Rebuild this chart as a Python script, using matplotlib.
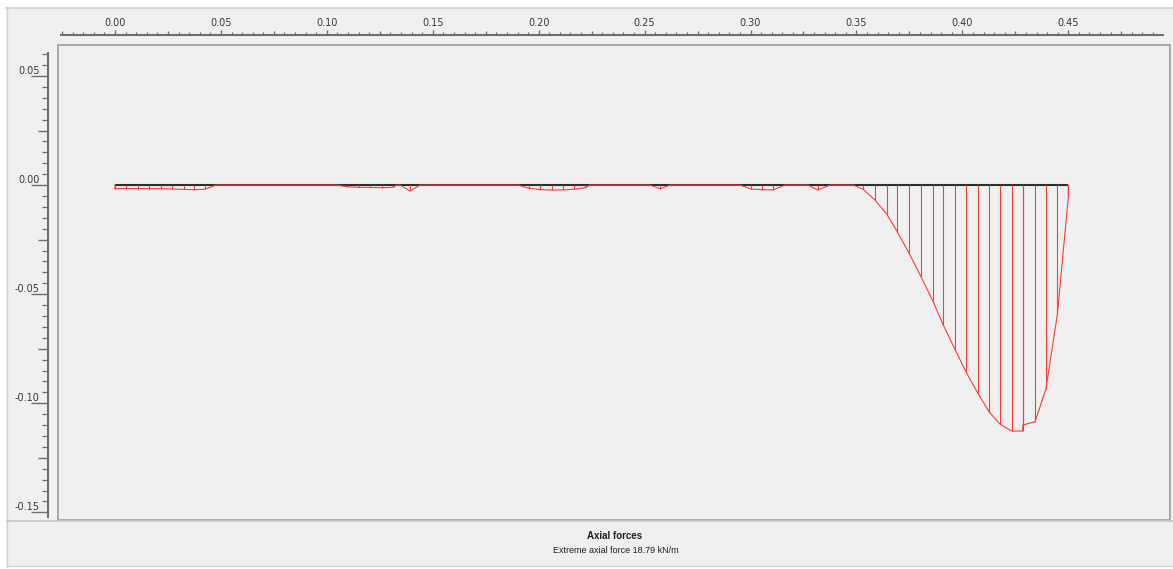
import matplotlib
matplotlib.use("Agg")
import matplotlib.pyplot as plt
import numpy as np
from matplotlib.lines import Line2D
from matplotlib.patches import Rectangle
from matplotlib.ticker import FixedLocator, FuncFormatter

W, H = 1173, 569
PT = 72 / 100  # points per pixel at dpi 100

# plate geometry (m)
plate_x = [0.0, 0.45]
plate_y = [0.0, 0.0]

# nodes along the plate (m) and axial force at each node (kN/m)
node_x = [0.0000, 0.0052, 0.0107, 0.0160, 0.0217, 0.0269, 0.0326, 0.0373, 0.0425, 0.0477,
          0.1043, 0.1097, 0.1151, 0.1205, 0.1259, 0.1313, 0.1330, 0.1345, 0.1393, 0.1440,
          0.1902, 0.1955, 0.2008, 0.2061, 0.2114, 0.2167, 0.2220, 0.2242,
          0.2525, 0.2573, 0.2620,
          0.2950, 0.3002, 0.3054, 0.3106, 0.3163,
          0.3270, 0.3318, 0.3375,
          0.3485, 0.3532, 0.3588, 0.3643, 0.3693, 0.3749, 0.3803, 0.3860, 0.3910, 0.3965,
          0.4017, 0.4072, 0.4126, 0.4177, 0.4233, 0.4285, 0.4285, 0.4343, 0.4394, 0.4448, 0.4500]
axial = [-0.27, -0.27, -0.27, -0.27, -0.28, -0.30, -0.33, -0.35, -0.32, 0.0,
         0.0, -0.13, -0.17, -0.18, -0.20, -0.17, 0.0, 0.0, -0.45, 0.0,
         0.0, -0.25, -0.35, -0.38, -0.37, -0.32, -0.20, 0.0,
         0.0, -0.28, 0.0,
         0.0, -0.30, -0.35, -0.37, 0.0,
         0.0, -0.37, 0.0,
         0.0, -0.33, -1.15, -2.22, -3.57, -5.22, -6.95, -8.83, -10.70, -12.55,
         -14.27, -15.87, -17.32, -18.25, -18.79, -18.79, -18.33, -18.08, -15.60, -9.93, -0.90]

# drawing scale of the force diagram (m per kN/m)
diagram_scale = 0.006

BG = "#f0f0f0"
RULER = "#6e6e6e"
TEXT = "#3a3a3a"
RED = "#ff3a3a"


def ruler_label(v, pos):
    if abs(v / 0.05 - round(v / 0.05)) > 1e-6:
        return ""
    if abs(v) < 1e-9:
        v = 0.0
    return f"{v:.2f}"


def lengthen_labelled(ticks, locs, size, top):
    for tick, loc in zip(ticks, locs):
        if ruler_label(loc, None):
            line = tick.tick2line if top else tick.tick1line
            line.set_markersize(size)


fig = plt.figure(figsize=(W / 100, H / 100), dpi=100, facecolor=BG)

# window edges and separator
fig.add_artist(Rectangle((0, 1 - 7 / H), 1, 7 / H, transform=fig.transFigure, color="white", lw=0))
fig.add_artist(Rectangle((0, 0), 6 / W, 1, transform=fig.transFigure, color="white", lw=0))
fig.add_artist(Rectangle((0, 0), 1, 2.5 / H, transform=fig.transFigure, color="white", lw=0))
fig.add_artist(Line2D([6 / W, 1], [1 - 7.5 / H] * 2, transform=fig.transFigure, color="#d2d2d2", lw=1.2))
fig.add_artist(Line2D([6.5 / W] * 2, [2.5 / H, 1 - 7.5 / H], transform=fig.transFigure, color="#d2d2d2", lw=1.0))
fig.add_artist(Line2D([6.5 / W, 1], [1 - 521 / H] * 2, transform=fig.transFigure, color="#c8c8c8", lw=1.2))
fig.add_artist(Line2D([6.5 / W, 1], [2.8 / H] * 2, transform=fig.transFigure, color="#d2d2d2", lw=1.0))

ax = fig.add_axes([58 / W, 1 - 520 / H, (1170 - 58) / W, (520 - 45) / H])
ax.set_facecolor(BG)
ax.set_xlim(-0.0269, 0.4980)
ax.set_ylim(-0.1535, 0.0642)

# plot frame
ax.add_patch(Rectangle((0, 0), 1, 1, transform=ax.transAxes, fill=False,
                       edgecolor="#a9a9a9", lw=1.4, clip_on=False, zorder=5))

# rulers: top (x) and left (y), offset from the frame
for side in ("right", "bottom"):
    ax.spines[side].set_visible(False)
ax.spines["top"].set_position(("outward", 10 * PT))
ax.spines["left"].set_position(("outward", 10 * PT))
ax.spines["top"].set_bounds(-0.0255, 0.4947)
ax.spines["left"].set_bounds(-0.1522, 0.0605)
for side in ("top", "left"):
    ax.spines[side].set_color(RULER)
    ax.spines[side].set_linewidth(1.5)

ax.xaxis.tick_top()
ax.xaxis.set_major_locator(FixedLocator(np.round(np.arange(-1, 20) * 0.025, 3)))
ax.xaxis.set_minor_locator(FixedLocator(np.round(np.arange(-5, 99) * 0.005, 3)))
ax.yaxis.set_major_locator(FixedLocator(np.round(np.arange(-6, 3) * 0.025, 3)))
ax.yaxis.set_minor_locator(FixedLocator(np.round(np.arange(-30, 13) * 0.005, 3)))
ax.xaxis.set_major_formatter(FuncFormatter(ruler_label))
ax.yaxis.set_major_formatter(FuncFormatter(ruler_label))

ax.tick_params(axis="x", which="major", direction="out", length=4.2 * PT, width=1.0,
               color=RULER, pad=2.0, labelsize=7, labelcolor=TEXT)
ax.tick_params(axis="x", which="minor", direction="out", length=3.0 * PT, width=0.9, color=RULER)
ax.tick_params(axis="y", which="major", direction="out", length=10 * PT, width=1.0,
               color=RULER, pad=-1.2, labelsize=7, labelcolor=TEXT)
ax.tick_params(axis="y", which="minor", direction="out", length=6 * PT, width=0.9, color=RULER)

lengthen_labelled(ax.xaxis.get_major_ticks(), ax.xaxis.get_majorticklocs(), 5.5 * PT, top=True)
lengthen_labelled(ax.yaxis.get_major_ticks(), ax.yaxis.get_majorticklocs(), 17 * PT, top=False)
plt.setp(ax.get_yticklabels(), va="bottom")

# plate
ax.plot(plate_x, plate_y, color="#2e2e2e", lw=1.5, solid_capstyle="butt", zorder=2)

# axial force diagram: outline and hatching at the nodes
x = np.asarray(node_x)
n = np.asarray(axial) * diagram_scale
ax.plot(np.r_[x[0], x, x[-1]], np.r_[0.0, n, 0.0], color=RED, lw=0.8, zorder=3)
ax.vlines(x, 0.0, n, color=RED, lw=0.8, zorder=3)

fig.text(615 / W, 1 - 536 / H, "Axial forces", ha="center", va="center",
         family="Liberation Sans", weight="bold", size=7, color="#202020")
fig.text(616 / W, 1 - 550.5 / H, f"Extreme axial force {abs(min(axial)):.2f} kN/m",
         ha="center", va="center", family="Liberation Sans", size=6.5, color="#202020")

fig.savefig("out.png", dpi=100, facecolor=BG)
